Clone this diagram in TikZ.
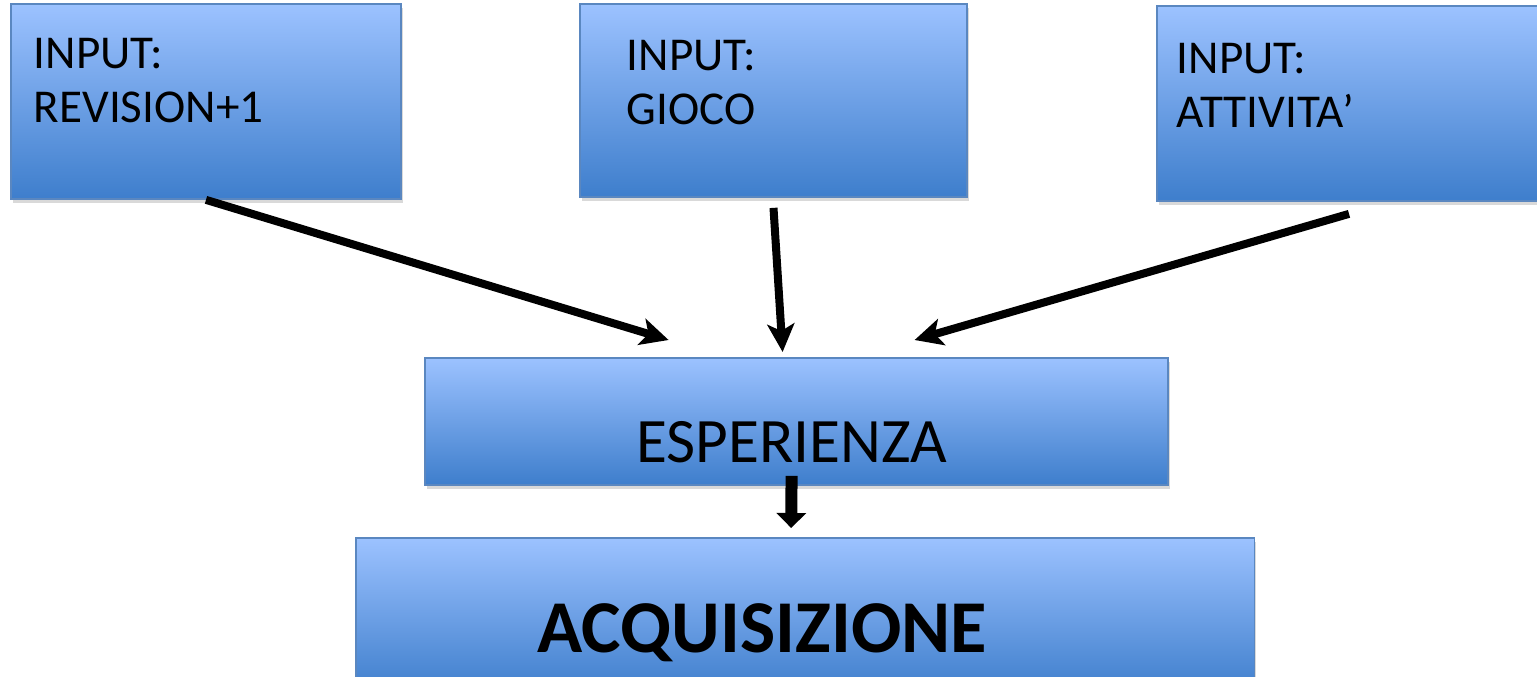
\documentclass[tikz,border=0pt]{standalone}
\usepackage{fontspec}
\setmainfont{Carlito}
\usetikzlibrary{arrows.meta,shadows,calc,positioning}

\definecolor{boxtop}{HTML}{9CC2FF}
\definecolor{boxbot}{HTML}{3E7ECC}
\definecolor{boxline}{HTML}{5A87C0}

\tikzstyle{inbox} = [rectangle, anchor=north west, draw=boxline, line width=0.5pt, top color=boxtop, bottom color=boxbot, drop shadow={opacity=0.3, shadow xshift=0.5pt, shadow yshift=-1.2pt}]
\tikzstyle{boxtext} = [anchor=north west, inner sep=0pt, align=left, font=\fontsize{13.4}{15.1}\selectfont]
\tikzstyle{esptext} = [anchor=north, inner sep=0pt, font=\fontsize{18}{22}\selectfont]
\tikzstyle{acqtext} = [anchor=north, inner sep=0pt, font=\bfseries\fontsize{21.2}{26}\selectfont]
\tikzstyle{arrow} = [line width=0.08cm, -{Stealth[length=0.28cm, width=0.27cm, inset=0.07cm]}]
\tikzstyle{bigarrow} = [line width=0.12cm, -{Triangle[length=0.15cm, width=0.29cm]}]

\begin{document}
\begin{tikzpicture}[x=0.01cm, y=-0.01cm]
\useasboundingbox (0,0) rectangle (1537,676);

% input boxes
\node (in1) [inbox, minimum width=3.9cm, minimum height=1.95cm] at (10,3) {};
\node (t1) [boxtext, below right=0.35cm and 0.23cm of in1.north west] {INPUT:\\REVISION+1};

\node (in2) [inbox, minimum width=3.87cm, minimum height=1.93cm] at (579,3) {};
\node (t2) [boxtext, below right=0.37cm and 0.47cm of in2.north west] {INPUT:\\GIOCO};

\node (in3) [inbox, minimum width=3.9cm, minimum height=1.95cm] at (1156,5) {};
\node (t3) [boxtext, below right=0.38cm and 0.20cm of in3.north west] {INPUT:\\ATTIVITA’};

% experience and acquisition
\node (esp) [inbox, minimum width=7.43cm, minimum height=1.27cm] at (424,357) {};
\node (tesp) [esptext, below=0.64cm of esp.north, xshift=-0.05cm] {ESPERIENZA};

\node (acq) [inbox, minimum width=8.98cm, minimum height=1.55cm] at (355,537) {};
\node (tacq) [acqtext, below=0.66cm of acq.north, xshift=-0.43cm] {ACQUISIZIONE};

\draw [arrow] (in1.south) -- ($(esp.north)+(-128,-17)$);
\draw [arrow] ($(in2.south)+(0,10)$) -- ($(esp.north)+(-14,-5)$);
\draw [arrow] ($(in3.south)+(-3,12)$) -- ($(esp.north)+(118,-17)$);
\draw [bigarrow] ($(esp.south)+(-5,-10)$) -- ($(acq.north)+(-14,-9)$);

\end{tikzpicture}
\end{document}
